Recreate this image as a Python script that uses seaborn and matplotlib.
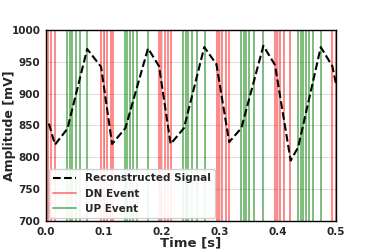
import matplotlib
matplotlib.use("Agg")
import matplotlib.pyplot as plt
import seaborn as sns
import pandas as pd

# reconstructed signal (piecewise linear vertices)
sig_t = [0.005, 0.0155, 0.037, 0.071, 0.095, 0.114, 0.137, 0.176, 0.195, 0.215,
         0.238, 0.273, 0.294, 0.316, 0.337, 0.375, 0.395, 0.422, 0.435, 0.474,
         0.494, 0.500]
sig_mv = [853, 820, 845, 970, 942, 821, 846, 971, 943, 821,
          846, 973, 946, 824, 846, 975, 945, 795, 816, 973,
          943, 916]

# event times
dn_times = [0.0034, 0.0091, 0.0155,
            0.0954, 0.100, 0.1057, 0.1115, 0.1155,
            0.195, 0.199, 0.205, 0.210, 0.216,
            0.295, 0.298, 0.303, 0.310, 0.316,
            0.395, 0.399, 0.403, 0.411, 0.421,
            0.494, 0.4995]
up_times = [0.0368, 0.0408, 0.0454, 0.0511, 0.0586, 0.0712,
            0.136, 0.140, 0.145, 0.1505, 0.157, 0.176,
            0.237, 0.241, 0.245, 0.251, 0.260, 0.274,
            0.337, 0.341, 0.345, 0.351, 0.358, 0.375,
            0.435, 0.440, 0.444, 0.448, 0.454, 0.461, 0.474]

sns.set_style("whitegrid", {"axes.edgecolor": "black", "grid.color": "#dddddd"})
plt.rcParams["font.weight"] = "bold"
plt.rcParams["axes.labelweight"] = "bold"

fig, ax = plt.subplots(figsize=(3.74, 2.49), dpi=100)
fig.subplots_adjust(left=0.123, right=0.898, top=0.880, bottom=0.112)

df = pd.DataFrame({"t": sig_t, "mv": sig_mv})

for i, t in enumerate(dn_times):
    ax.axvline(t, color="red", alpha=0.5, lw=1.3, label="DN Event" if i == 0 else None)
for i, t in enumerate(up_times):
    ax.axvline(t, color="green", alpha=0.55, lw=1.3, label="UP Event" if i == 0 else None)

sns.lineplot(data=df, x="t", y="mv", ax=ax, color="black", linestyle="--",
             lw=1.5, label="Reconstructed Signal", zorder=5)

ax.set_xlim(0, 0.5)
ax.set_ylim(700, 1000)
ax.set_xlabel("Time [s]", fontsize=9.5, labelpad=0)
ax.set_ylabel("Amplitude [mV]", fontsize=9)
ax.yaxis.set_label_coords(-0.103, 0.5)
ax.tick_params(labelsize=7.5, pad=0.5)
for s in ax.spines.values():
    s.set_linewidth(1.0)

handles, labels = ax.get_legend_handles_labels()
order = [labels.index("Reconstructed Signal"), labels.index("DN Event"), labels.index("UP Event")]
ax.legend([handles[i] for i in order], [labels[i] for i in order],
          loc="lower left", prop={"weight": "bold", "size": 7.5},
          framealpha=0.9, borderaxespad=0.3, handlelength=2.2)

fig.savefig("out.png", dpi=100)
